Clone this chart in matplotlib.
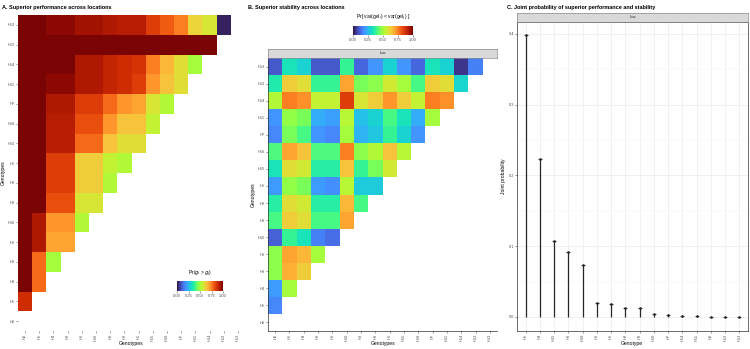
import numpy as np
import matplotlib
matplotlib.use("Agg")
from matplotlib import pyplot as plt
from matplotlib.ticker import MultipleLocator

plt.rcParams['font.family'] = ['Liberation Sans', 'DejaVu Sans']

## DATA
# genotype order used on both heatmaps (x left->right, y bottom->top)
genotypes = ["H2", "H5", "H4", "H3", "H6", "H10", "H8", "H9",
             "H1", "H15", "H16", "H7", "H11", "H14", "H12", "H13"]

# A: Pr(g_i > g_j), one list per row from H5 (bottom) up to H13 (top)
perf_rows = [
    [0.88],
    [1.00, 0.78],
    [1.00, 0.78, 0.50],
    [1.00, 0.93, 0.70, 0.70],
    [1.00, 0.93, 0.72, 0.72, 0.52],
    [1.00, 1.00, 0.82, 0.82, 0.58, 0.58],
    [1.00, 1.00, 0.85, 0.85, 0.63, 0.63, 0.52],
    [1.00, 1.00, 0.85, 0.85, 0.63, 0.63, 0.55, 0.52],
    [1.00, 1.00, 0.92, 0.92, 0.78, 0.78, 0.65, 0.60, 0.60],
    [1.00, 1.00, 0.92, 0.92, 0.82, 0.82, 0.72, 0.65, 0.65, 0.55],
    [1.00, 1.00, 0.93, 0.93, 0.85, 0.85, 0.78, 0.72, 0.70, 0.58, 0.52],
    [1.00, 1.00, 0.98, 0.98, 0.93, 0.93, 0.90, 0.88, 0.85, 0.72, 0.65, 0.60],
    [1.00, 1.00, 1.00, 1.00, 0.93, 0.93, 0.90, 0.88, 0.87, 0.75, 0.67, 0.60, 0.50],
    [1.00] * 14,
    [1.00, 1.00, 0.98, 0.98, 0.95, 0.95, 0.93, 0.92, 0.92, 0.85, 0.80, 0.75, 0.62, 0.58, 0.02],
]

# B: Pr[var(gel_i) < var(gel_j)], same row layout
stab_rows = [
    [0.17],
    [0.20, 0.50],
    [0.47, 0.68, 0.63],
    [0.47, 0.70, 0.67, 0.50],
    [0.11, 0.38, 0.33, 0.16, 0.13],
    [0.40, 0.63, 0.60, 0.40, 0.40, 0.70],
    [0.36, 0.60, 0.57, 0.36, 0.36, 0.67, 0.40],
    [0.20, 0.48, 0.45, 0.20, 0.18, 0.53, 0.28, 0.28],
    [0.33, 0.60, 0.57, 0.36, 0.36, 0.65, 0.38, 0.45, 0.57],
    [0.41, 0.70, 0.65, 0.41, 0.41, 0.75, 0.47, 0.52, 0.65, 0.53],
    [0.17, 0.45, 0.40, 0.19, 0.17, 0.50, 0.24, 0.27, 0.38, 0.29, 0.19],
    [0.19, 0.48, 0.45, 0.23, 0.21, 0.53, 0.26, 0.29, 0.40, 0.33, 0.23, 0.50],
    [0.52, 0.75, 0.73, 0.55, 0.55, 0.85, 0.58, 0.63, 0.72, 0.63, 0.55, 0.75, 0.73],
    [0.35, 0.63, 0.60, 0.38, 0.38, 0.70, 0.45, 0.47, 0.57, 0.50, 0.40, 0.63, 0.60, 0.30],
    [0.10, 0.33, 0.29, 0.10, 0.10, 0.38, 0.12, 0.19, 0.29, 0.19, 0.12, 0.33, 0.29, 0.05, 0.16],
]

# C: joint probability, sorted
joint_labels = ["H5", "H4", "H15", "H3", "H16", "H6", "H1", "H8",
                "H9", "H10", "H7", "H14", "H11", "H2", "H12", "H13"]
joint_prob = [0.398, 0.223, 0.107, 0.092, 0.073, 0.020, 0.018, 0.013,
              0.013, 0.004, 0.003, 0.002, 0.001, 0.0005, 0.0003, 0.0002]

W, H = 750, 349
TICK_COL = '#4d4d4d'
BOTTOM = 331


def box(x0, y0, x1, y1):
    """pixel box (top-left origin) -> figure fraction rect"""
    return [x0 / W, 1 - y1 / H, (x1 - x0) / W, (y1 - y0) / H]


def to_matrix(rows):
    n = len(genotypes)
    mat = np.full((n, n), np.nan)
    for i, row in enumerate(rows, start=1):
        mat[i, :len(row)] = row
    return mat


def style_ticks(ax, xcenter):
    n = len(genotypes)
    ax.set_xticks(range(n))
    ax.set_xticklabels(genotypes, rotation=90)
    ax.set_yticks(range(n))
    ax.set_yticklabels(genotypes)
    ax.set_xlim(-0.5, n - 0.5)
    ax.set_ylim(-0.5, n - 0.5)
    ax.tick_params(labelsize=2.8, length=1.2, width=0.4, colors=TICK_COL,
                   labelcolor=TICK_COL, pad=1)
    fig.text(xcenter / W, 1 - 344 / H, "Genotypes", fontsize=3.6,
             ha='center', va='center')
    ax.set_ylabel("Genotypes", fontsize=3.6, labelpad=1.5)


def colorbar(mesh, rect, title, title_xy):
    cax = fig.add_axes(box(*rect))
    cb = fig.colorbar(mesh, cax=cax, orientation='horizontal')
    cb.set_ticks([0, 0.25, 0.5, 0.75, 1.0])
    cb.set_ticklabels(['0.00', '0.25', '0.50', '0.75', '1.00'])
    cb.outline.set_visible(False)
    cax.tick_params(labelsize=3, length=1.2, width=0.4, colors=TICK_COL, pad=1)
    fig.text(title_xy[0] / W, 1 - title_xy[1] / H, title, fontsize=3.6,
             ha='center', va='center')


def strip(rect, text):
    sax = fig.add_axes(box(*rect))
    sax.set_facecolor('#d9d9d9')
    sax.set_xticks([])
    sax.set_yticks([])
    for s in sax.spines.values():
        s.set_color('#8c8c8c')
        s.set_linewidth(0.5)
    sax.text(0.5, 0.5, text, fontsize=3, ha='center', va='center',
             color='#1a1a1a', transform=sax.transAxes)


fig = plt.figure(figsize=(7.5, 3.49), dpi=100)
edges = np.arange(len(genotypes) + 1) - 0.5

## PANEL A
axA = fig.add_axes(box(18, 15, 245, BOTTOM))
meshA = axA.pcolormesh(edges, edges, to_matrix(perf_rows), cmap='turbo',
                       vmin=0, vmax=1)
style_ticks(axA, 131)
for s in axA.spines.values():
    s.set_visible(False)
fig.text(2 / W, 1 - 8 / H, "A. Superior performance across locations",
         fontsize=4, fontweight='bold', va='center')
colorbar(meshA, (177, 281, 223, 291), r'Pr($g_i$ > $g_j$)', (200, 274))

## PANEL B
axB = fig.add_axes(box(268, 58, 497, BOTTOM))
meshB = axB.pcolormesh(edges, edges, to_matrix(stab_rows), cmap='turbo',
                       vmin=0, vmax=1)
style_ticks(axB, 383)
axB.spines['top'].set_visible(False)
axB.spines['right'].set_visible(False)
for side in ['left', 'bottom']:
    axB.spines[side].set_color('#333333')
    axB.spines[side].set_linewidth(0.5)
strip((268, 49, 497, 58), "Loc")
fig.text(248 / W, 1 - 8 / H, "B. Superior stability across locations",
         fontsize=4, fontweight='bold', va='center')
colorbar(meshB, (353, 26, 413, 35), r'Pr[ var(gel$_i$) < var(gel$_j$) ]', (383, 18))

## PANEL C
axC = fig.add_axes(box(517, 22, 748, BOTTOM))
x = np.arange(len(joint_labels))
axC.vlines(x, 0, joint_prob, color='#262626', lw=0.9, zorder=3)
axC.plot(x, joint_prob, '_', color='#262626', ms=2.5, mew=0.6, zorder=4)
axC.plot(x, joint_prob, 'o', color='#262626', ms=0.9, zorder=4)
axC.set_xlim(-0.6, len(joint_labels) - 0.4)
axC.set_ylim(-0.0199, 0.4167)
axC.set_xticks(x)
axC.set_xticklabels(joint_labels, rotation=90)
axC.set_yticks([0, 0.1, 0.2, 0.3, 0.4])
axC.set_yticklabels(['0.0', '0.1', '0.2', '0.3', '0.4'])
axC.yaxis.set_minor_locator(MultipleLocator(0.05))
axC.grid(True, which='major', color='#ebebeb', lw=0.5)
axC.grid(True, which='minor', axis='y', color='#f4f4f4', lw=0.3)
axC.set_axisbelow(True)
axC.tick_params(labelsize=2.8, length=1.2, width=0.4, colors=TICK_COL,
                labelcolor=TICK_COL, pad=1)
axC.tick_params(which='minor', length=0)
for s in axC.spines.values():
    s.set_color('#333333')
    s.set_linewidth(0.5)
fig.text(632 / W, 1 - 344 / H, "Genotype", fontsize=3.6, ha='center', va='center')
axC.set_ylabel("Joint probability", fontsize=3.6, labelpad=2)
strip((517, 13, 748, 22), "Loc")
fig.text(507 / W, 1 - 8 / H, "C. Joint probability of superior performance and stability",
         fontsize=4, fontweight='bold', va='center')

fig.savefig("out.png", dpi=100)
